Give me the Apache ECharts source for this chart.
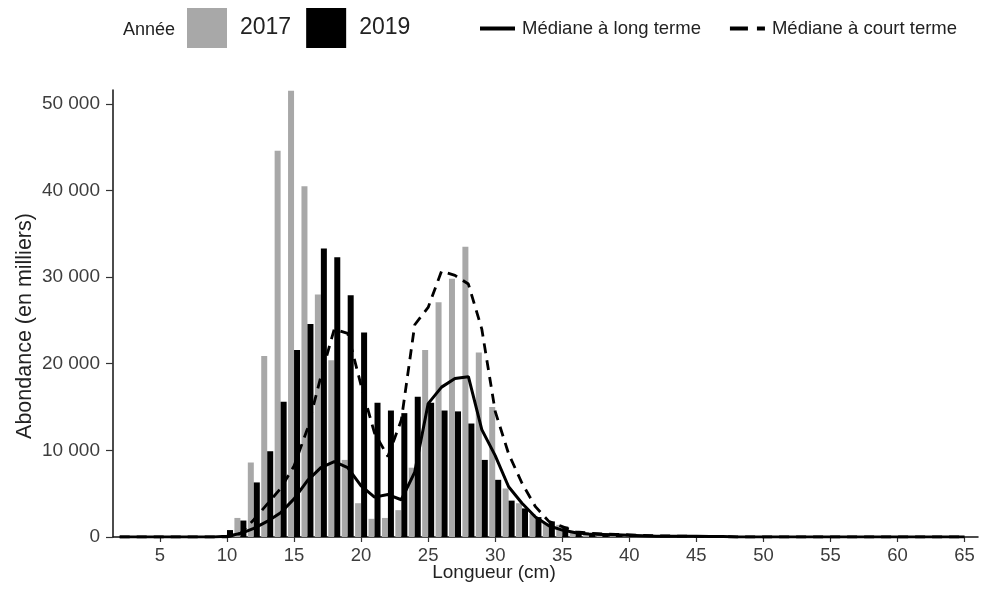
<!DOCTYPE html>
<html>
<head>
<meta charset="utf-8">
<script src="https://cdn.jsdelivr.net/npm/echarts@6/dist/echarts.min.js"></script>
<style>
  html, body { margin: 0; padding: 0; background: #fff; }
  #chart { width: 984px; height: 590px; }
</style>
</head>
<body>
<div id="chart"></div>
<script>
'use strict';

// Longueur (cm)
const lengths = [
  2, 3, 4, 5, 6, 7, 8, 9, 10, 11, 12, 13, 14, 15, 16, 17, 18, 19, 20, 21, 22, 23,
  24, 25, 26, 27, 28, 29, 30, 31, 32, 33, 34, 35, 36, 37, 38, 39, 40, 41, 42, 43,
  44, 45, 46, 47, 48, 49, 50, 51, 52, 53, 54, 55, 56, 57, 58, 59, 60, 61, 62, 63,
  64, 65
];

// Abondance (en milliers)
const abund2017 = [
  0, 0, 0, 0, 0, 0, 0, 0, 200, 2200, 8600, 20900, 44600, 51500, 40500, 28000, 20400, 8900, 3900, 2100, 2200, 3100,
  8000, 21600, 27100, 29800, 33500, 21300, 15000, 5600, 3900, 2650, 1600, 1400, 600, 400, 300, 250, 200, 150, 100, 100,
  80, 60, 50, 50, 0, 0, 0, 0, 0, 0, 0, 0, 0, 0, 0, 0, 0, 0, 0, 0,
  0, 0
];
const abund2019 = [
  0, 0, 0, 0, 0, 0, 0, 0, 800, 1900, 6300, 9900, 15600, 21600, 24600, 33300, 32300, 27900, 23600, 15500, 14600, 14300,
  16200, 15500, 14600, 14500, 13100, 8900, 6600, 4200, 3300, 2300, 1800, 1200, 500, 350, 250, 200, 150, 100, 100, 50,
  50, 40, 30, 30, 0, 0, 0, 0, 0, 0, 0, 0, 0, 0, 0, 0, 0, 0, 0, 0,
  0, 0
];
const medianeLong = [
  0, 0, 0, 0, 0, 0, 0, 0, 100, 400, 1000, 1800, 2800, 4400, 6500, 8000, 8700, 8000, 5900, 4600, 4900, 4300,
  7500, 15400, 17300, 18300, 18500, 12400, 9400, 5800, 3900, 2300, 1300, 800, 500, 350, 300, 250, 200, 150, 100, 100,
  100, 80, 60, 50, 0, 0, 0, 0, 0, 0, 0, 0, 0, 0, 0, 0, 0, 0, 0, 0,
  0, 0
];
const medianeCourt = [
  0, 0, 0, 0, 0, 0, 0, 0, 0, 400, 2000, 3800, 5600, 8200, 12500, 18500, 24000, 23500, 17500, 12000, 9300, 13500,
  24500, 26500, 30700, 30200, 29200, 24000, 14500, 9600, 6200, 3500, 1800, 1200, 600, 450, 350, 300, 250, 200, 150, 120,
  100, 80, 60, 50, 0, 0, 0, 0, 0, 0, 0, 0, 0, 0, 0, 0, 0, 0, 0, 0,
  0, 0
];

const xTicks = [5, 10, 15, 20, 25, 30, 35, 40, 45, 50, 55, 60, 65];
const yTicks = [0, 10000, 20000, 30000, 40000, 50000];

const FONT = 'Liberation Sans';
const TEXT_COLOR = '#222';
const TICK_COLOR = '#3d3d3d';

function pairs(values) {
  return lengths.map((len, i) => [len, values[i]]);
}

function fmtThousands(v) {
  return String(Math.round(v)).replace(/\B(?=(\d{3})+(?!\d))/g, ' ');
}

const chart = echarts.init(document.getElementById('chart'), null, { renderer: 'canvas' });

chart.setOption({
  animation: false,
  backgroundColor: '#fff',
  textStyle: { fontFamily: FONT },
  grid: { left: 113, right: 6, top: 90, bottom: 53 },
  graphic: [{
    type: 'text',
    x: 123,
    y: 30,
    style: { text: 'Année', fontFamily: FONT, fontSize: 18, fill: TEXT_COLOR, verticalAlign: 'middle' }
  }, {
    type: 'text',
    x: 494,
    y: 573,
    style: { text: 'Longueur (cm)', fontFamily: FONT, fontSize: 19, fill: TEXT_COLOR, align: 'center', verticalAlign: 'middle' }
  }, {
    type: 'text',
    x: 25,
    y: 326,
    rotation: Math.PI / 2,
    style: { text: 'Abondance (en milliers)', fontFamily: FONT, fontSize: 21.5, fill: TEXT_COLOR, align: 'center', verticalAlign: 'middle' }
  }],
  legend: [{
    left: 182,
    top: 3,
    itemWidth: 40,
    itemHeight: 40,
    itemGap: 15,
    icon: 'rect',
    textStyle: { fontFamily: FONT, fontSize: 23, color: TEXT_COLOR, padding: [0, 0, 0, 8] },
    data: ['2017', '2019']
  }, {
    left: 475,
    top: 14,
    itemWidth: 35,
    itemHeight: 4,
    itemGap: 29,
    textStyle: { fontFamily: FONT, fontSize: 18.5, color: TEXT_COLOR, padding: [0, 0, 0, 2] },
    data: [
      { name: 'Médiane à long terme', icon: 'path://M0,0h35v4h-35z' },
      { name: 'Médiane à court terme', icon: 'path://M0,0h18v4h-18zM27,0h8v4h-8z' }
    ]
  }],
  xAxis: {
    type: 'value',
    min: 1.5,
    max: 66,
    axisLine: { show: true, lineStyle: { color: '#111', width: 1.5 } },
    axisTick: { show: true, customValues: xTicks, length: 5, lineStyle: { color: '#333', width: 1.2 } },
    axisLabel: { customValues: xTicks, margin: 9, fontFamily: FONT, fontSize: 18.5, color: TICK_COLOR },
    splitLine: { show: false }
  },
  yAxis: {
    type: 'value',
    min: 0,
    max: 51600,
    axisLine: { show: true, lineStyle: { color: '#111', width: 1.5 } },
    axisTick: { show: true, customValues: yTicks, length: 7, lineStyle: { color: '#333', width: 1.2 } },
    axisLabel: {
      customValues: yTicks,
      margin: 13,
      fontFamily: FONT,
      fontSize: 19,
      color: TICK_COLOR,
      formatter: (v) => fmtThousands(v)
    },
    splitLine: { show: false }
  },
  series: [{
    name: '2017',
    type: 'bar',
    barWidth: 6,
    barGap: '0%',
    itemStyle: { color: '#a8a8a8' },
    data: pairs(abund2017)
  }, {
    name: '2019',
    type: 'bar',
    barWidth: 6,
    barGap: '0%',
    itemStyle: { color: '#000' },
    data: pairs(abund2019)
  }, {
    name: 'Médiane à long terme',
    type: 'line',
    symbol: 'none',
    z: 5,
    lineStyle: { color: '#000', width: 3 },
    itemStyle: { color: '#000' },
    data: pairs(medianeLong)
  }, {
    name: 'Médiane à court terme',
    type: 'line',
    symbol: 'none',
    z: 5,
    lineStyle: { color: '#000', width: 2.8, type: [10, 7] },
    itemStyle: { color: '#000' },
    data: pairs(medianeCourt)
  }]
});
</script>
</body>
</html>
